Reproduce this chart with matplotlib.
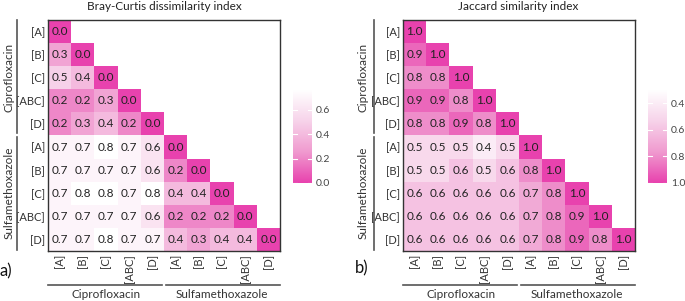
import numpy as np
import matplotlib
matplotlib.use("Agg")
import matplotlib.pyplot as plt
from matplotlib.colors import LinearSegmentedColormap, Normalize
from matplotlib.lines import Line2D

plt.rcParams['font.family'] = ['Lato', 'DejaVu Sans']

labels = ["[A]", "[B]", "[C]", "[ABC]", "[D]", "[A]", "[B]", "[C]", "[ABC]", "[D]"]
groups = ["Ciprofloxacin", "Sulfamethoxazole"]

bray_rows = [
    [0.0],
    [0.3, 0.0],
    [0.5, 0.4, 0.0],
    [0.2, 0.2, 0.3, 0.0],
    [0.2, 0.3, 0.4, 0.2, 0.0],
    [0.7, 0.7, 0.8, 0.7, 0.6, 0.0],
    [0.7, 0.7, 0.7, 0.7, 0.6, 0.2, 0.0],
    [0.7, 0.8, 0.8, 0.7, 0.8, 0.4, 0.4, 0.0],
    [0.7, 0.7, 0.7, 0.7, 0.6, 0.2, 0.2, 0.2, 0.0],
    [0.7, 0.7, 0.8, 0.7, 0.7, 0.4, 0.3, 0.4, 0.4, 0.0],
]
jac_rows = [
    [1.0],
    [0.9, 1.0],
    [0.8, 0.8, 1.0],
    [0.9, 0.9, 0.8, 1.0],
    [0.8, 0.8, 0.9, 0.8, 1.0],
    [0.5, 0.5, 0.5, 0.4, 0.5, 1.0],
    [0.5, 0.5, 0.6, 0.5, 0.6, 0.8, 1.0],
    [0.6, 0.6, 0.6, 0.6, 0.6, 0.7, 0.8, 1.0],
    [0.6, 0.6, 0.6, 0.6, 0.6, 0.7, 0.8, 0.9, 1.0],
    [0.6, 0.6, 0.6, 0.6, 0.6, 0.7, 0.8, 0.9, 0.8, 1.0],
]
bray_ticks = [0.0, 0.2, 0.4, 0.6]
jac_ticks = [0.4, 0.6, 0.8, 1.0]

W, H = 685, 301
fig = plt.figure(figsize=(W / 100, H / 100), dpi=100)

magenta = "#E842AE"
# white -> magenta as value increases
cmap_wm = LinearSegmentedColormap.from_list("wm", ["#FFFFFF", "#F7D3EA", "#F09ACF", magenta])
# magenta -> white as value increases
cmap_mw = cmap_wm.reversed()

def px(x0, y0, x1, y1):
    return [x0 / W, 1 - y1 / H, (x1 - x0) / W, (y1 - y0) / H]

def to_matrix(rows):
    n = len(rows)
    m = np.full((n, n), np.nan)
    for i, r in enumerate(rows):
        for j, v in enumerate(r):
            m[i, j] = v
    return np.ma.masked_invalid(m)

def heat(rect, rows, cm, norm):
    ax = fig.add_axes(px(*rect))
    m = to_matrix(rows)
    n = m.shape[0]
    ax.imshow(m, cmap=cm, norm=norm, aspect='auto', interpolation='nearest',
              extent=(-0.5, n - 0.5, n - 0.5, -0.5))
    for i, r in enumerate(rows):
        for j, v in enumerate(r):
            ax.text(j, i, f"{v:.1f}", ha='center', va='center', fontsize=8.5, color="#222222")
    ax.set_xlim(-0.5, n - 0.5)
    ax.set_ylim(n - 0.5, -0.5)
    ax.set_xticks(range(n))
    ax.set_yticks(range(n))
    ax.set_xticklabels(labels, rotation=90, fontsize=8, color="#333333")
    ax.set_yticklabels(labels, fontsize=8, color="#333333")
    ax.tick_params(length=0, pad=2)
    for s in ax.spines.values():
        s.set_color("#333333")
        s.set_linewidth(1.0)
    return ax

def cbar(rect, cm, norm, ticks, invert):
    cax = fig.add_axes(px(*rect))
    grad = np.linspace(norm.vmin, norm.vmax, 256).reshape(-1, 1)
    cax.imshow(grad, cmap=cm, norm=norm, aspect='auto', origin='lower',
               extent=(0, 1, norm.vmin, norm.vmax))
    cax.set_xlim(0, 1)
    cax.set_ylim(norm.vmin, norm.vmax)
    if invert:
        cax.invert_yaxis()
    cax.set_xticks([])
    cax.yaxis.tick_right()
    cax.set_yticks(ticks)
    cax.set_yticklabels([f"{t:.1f}" for t in ticks], fontsize=7.5, color="#444444")
    cax.tick_params(axis='y', length=0, pad=3)
    for t in ticks:
        cax.plot([0, 0.2], [t, t], color='white', lw=0.8)
        cax.plot([0.8, 1], [t, t], color='white', lw=0.8)
    for s in cax.spines.values():
        s.set_visible(False)

# Left panel: Bray-Curtis (0 = magenta)
norm_b = Normalize(vmin=0.0, vmax=0.76)
heat((48, 20, 280, 251), bray_rows, cmap_mw, norm_b)
cbar((293, 90, 312, 183), cmap_mw, norm_b, bray_ticks, False)

# Right panel: Jaccard (1 = magenta, reversed scale)
norm_j = Normalize(vmin=0.3, vmax=1.0)
heat((403, 20, 635, 251), jac_rows, cmap_wm, norm_j)
cbar((648, 90, 667, 183), cmap_wm, norm_j, jac_ticks, True)

def fline(x0, y0, x1, y1):
    fig.add_artist(Line2D([x0 / W, x1 / W], [1 - y0 / H, 1 - y1 / H],
                          color="#555555", lw=1.2, transform=fig.transFigure))

def ftext(x, y, s, **kw):
    fig.text(x / W, 1 - y / H, s, **kw)

for (vx, lx, ax0, ax1, letter, letter_x, letter_y, cx, title) in [
        (17, 9, 48, 280, "a)", 6, 271, 164, "Bray-Curtis dissimilarity index"),
        (374, 363, 403, 635, "b)", 362, 268, 518, "Jaccard similarity index")]:
    mid = (ax0 + ax1) / 2
    fline(vx, 20, vx, 133)
    fline(vx, 137, vx, 250)
    ftext(lx, 77, groups[0], rotation=90, ha='center', va='center', fontsize=8.5, color="#333333")
    ftext(lx, 193, groups[1], rotation=90, ha='center', va='center', fontsize=8.5, color="#333333")
    fline(ax0, 285, mid - 2, 285)
    fline(mid + 2, 285, ax1, 285)
    ftext((ax0 + mid) / 2, 295, groups[0], ha='center', va='center', fontsize=8.5, color="#333333")
    ftext((mid + ax1) / 2, 295, groups[1], ha='center', va='center', fontsize=8.5, color="#333333")
    ftext(letter_x, letter_y, letter, ha='center', va='center', fontsize=12, color="#111111")
    ftext(cx, 7, title, ha='center', va='center', fontsize=8.5, color="#222222")

fig.savefig("out.png", dpi=100)
